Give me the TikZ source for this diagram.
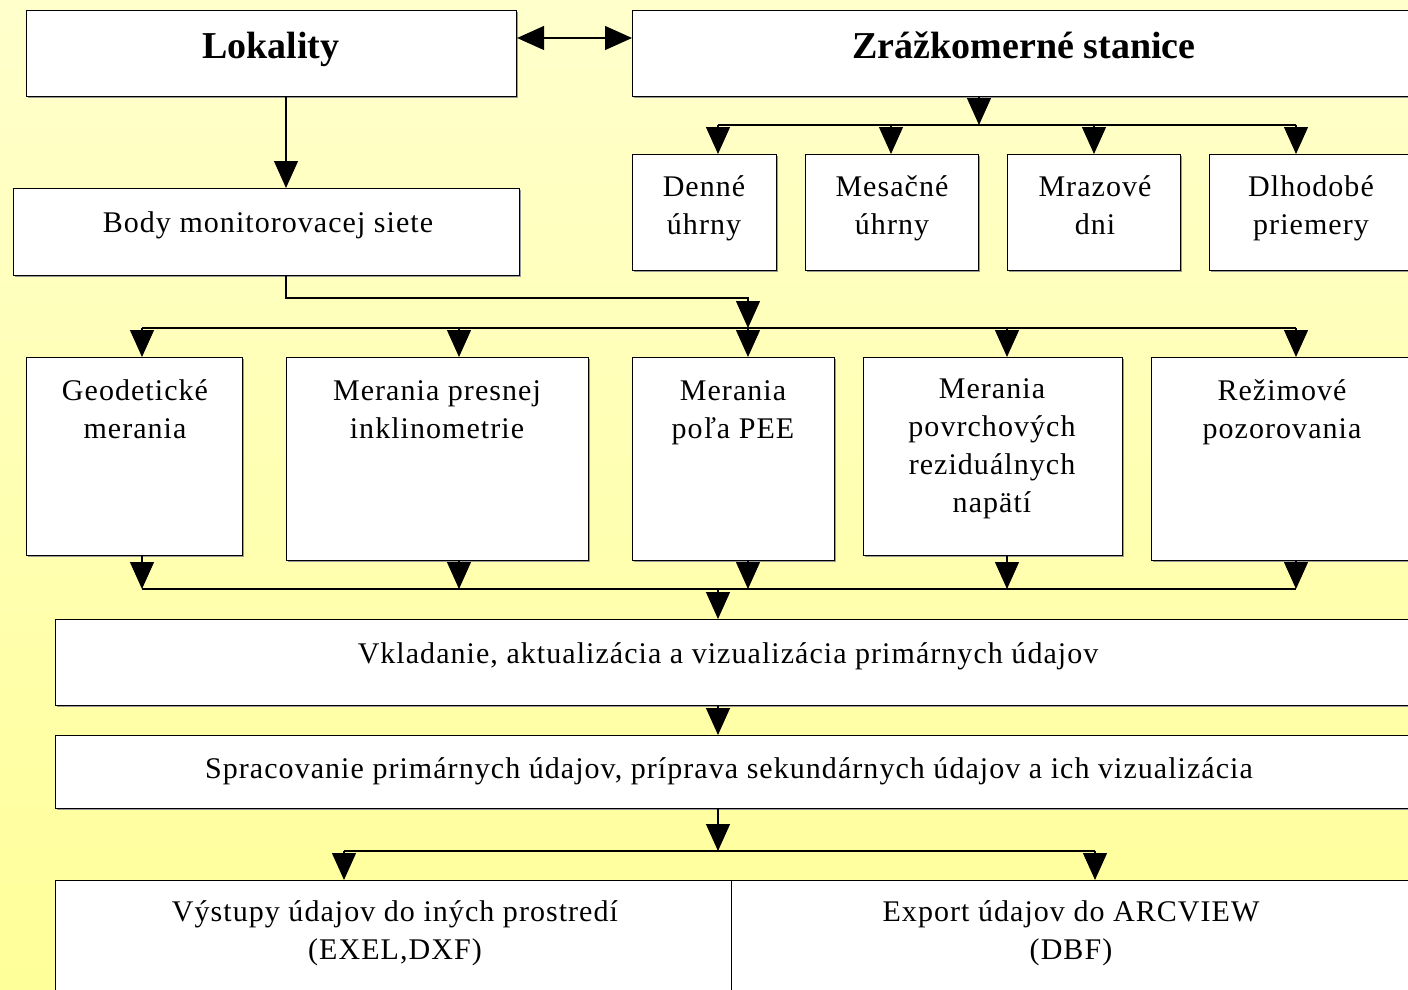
\documentclass[tikz,border=0pt]{standalone}
\usepackage{fontspec}
\setmainfont{Liberation Serif}
\newfontfamily\spaced[LetterSpace=3.5]{Liberation Serif}
\usetikzlibrary{arrows.meta,shadows}
\definecolor{bgtop}{HTML}{FFFFCC}
\definecolor{bgbot}{HTML}{FFFF99}
\begin{document}
\begin{tikzpicture}[x=1pt,y=-1pt,
  box/.style={draw=black, line width=1.1pt, fill=white, anchor=north west, inner sep=0pt,
    general shadow={fill=black!40, shadow xshift=1.3pt, shadow yshift=-1.3pt}},
  txt/.style={font=\spaced\fontsize{30}{38}\selectfont, align=center, inner sep=0pt, anchor=base},
  big/.style={font=\fontsize{38}{44}\selectfont\bfseries, inner sep=0pt, anchor=base},
  con/.style={line width=1.2pt, draw=black},
  arr/.style={con, -{Triangle[width=24pt,length=27pt]}},
  dbl/.style={con, {Triangle[width=24pt,length=27pt]}-{Triangle[width=24pt,length=27pt]}},
]
\useasboundingbox (0,0) rectangle (1408,990);
\shade[top color=bgtop, bottom color=bgbot] (0,0) rectangle (1408,990);
\clip (0,0) rectangle (1408,990);

% boxes
\node[box, minimum width=490pt, minimum height=86pt] (lok) at (26,10) {};
\node[box, minimum width=788pt, minimum height=86pt] (zr) at (632,10) {};
\node[box, minimum width=506pt, minimum height=87pt] (body) at (13,188) {};
\node[box, minimum width=144pt, minimum height=116pt] (den) at (632,154) {};
\node[box, minimum width=173pt, minimum height=116pt] (mes) at (805,154) {};
\node[box, minimum width=173pt, minimum height=116pt] (mra) at (1007,154) {};
\node[box, minimum width=211pt, minimum height=116pt] (dlh) at (1209,154) {};
\node[box, minimum width=216pt, minimum height=198pt] (geo) at (26,357) {};
\node[box, minimum width=302pt, minimum height=203pt] (pre) at (286,357) {};
\node[box, minimum width=202pt, minimum height=203pt] (pee) at (632,357) {};
\node[box, minimum width=259pt, minimum height=198pt] (pov) at (863,357) {};
\node[box, minimum width=269pt, minimum height=203pt] (rez) at (1151,357) {};
\node[box, minimum width=1365pt, minimum height=86pt] (vk) at (55,619) {};
\node[box, minimum width=1365pt, minimum height=73pt] (sp) at (55,735) {};
\node[box, minimum width=676pt, minimum height=130pt] (vy) at (55,880) {};
\node[box, minimum width=689pt, minimum height=130pt] (ex) at (731,880) {};

% texts (base anchor = baseline of the last line)
\node[big] (loktxt) at (271,59) {Lokality};
\node[big] (zrtxt) at (1024,59) {Zrážkomerné stanice};
\node[txt] (bodytxt) at (268,232) {Body monitorovacej siete};
\node[txt] (dentxt) at (704,234) {Denné\\úhrny};
\node[txt] (mestxt) at (892,234) {Mesačné\\úhrny};
\node[txt] (mratxt) at (1095,234) {Mrazové\\dni};
\node[txt] (dlhtxt) at (1311,234) {Dlhodobé\\priemery};
\node[txt] (geotxt) at (135,438) {Geodetické\\merania};
\node[txt] (pretxt) at (437,438) {Merania presnej\\inklinometrie};
\node[txt] (peetxt) at (733,438) {Merania\\poľa PEE};
\node[txt] (povtxt) at (992,512) {Merania\\povrchových\\reziduálnych\\napätí};
\node[txt] (reztxt) at (1282,438) {Režimové\\pozorovania};
\node[txt] (vktxt) at (728,663) {Vkladanie, aktualizácia a vizualizácia primárnych údajov};
\node[txt] (sptxt) at (729,778) {Spracovanie primárnych údajov, príprava sekundárnych údajov a ich vizualizácia};
\node[txt] (vytxt) at (395,959) {Výstupy údajov do iných prostredí\\(EXEL,DXF)};
\node[txt] (extxt) at (1071,959) {Export údajov do ARCVIEW\\(DBF)};

% coordinates
\coordinate (d) at (0,38);
\coordinate (j1) at (286,298);
\coordinate (s1) at (979,125);
\coordinate (c1) at (718,125);
\coordinate (c2) at (891,125);
\coordinate (c3) at (1094,125);
\coordinate (c4) at (1296,125);
\coordinate (t1) at (142,328);
\coordinate (t2) at (459,328);
\coordinate (t3) at (748,328);
\coordinate (t4) at (1007,328);
\coordinate (t5) at (1296,328);
\coordinate (u1) at (142,589);
\coordinate (u2) at (459,589);
\coordinate (u3) at (748,589);
\coordinate (u4) at (1007,589);
\coordinate (u5) at (1296,589);
\coordinate (m) at (718,589);
\coordinate (q) at (718,851);
\coordinate (q1) at (344,851);
\coordinate (q2) at (1095,851);

% connectors
\draw[dbl] (lok.east |- d) -- (zr.west |- d);
\draw[arr] (lok.south -| j1) -- (body.north -| j1);
\draw[arr] (zr.south -| s1) -- (s1);
\draw[con] (c1) -- (c4);
\draw[arr] (c1) -- (c1 |- den.north);
\draw[arr] (c2) -- (c2 |- mes.north);
\draw[arr] (c3) -- (c3 |- mra.north);
\draw[arr] (c4) -- (c4 |- dlh.north);
\draw[arr] (body.south -| j1) -- (j1) -| (t3);
\draw[con] (t1) -- (t5);
\draw[arr] (t1) -- (t1 |- geo.north);
\draw[arr] (t2) -- (t2 |- pre.north);
\draw[arr] (t3) -- (t3 |- pee.north);
\draw[arr] (t4) -- (t4 |- pov.north);
\draw[arr] (t5) -- (t5 |- rez.north);
\draw[arr] (geo.south -| u1) -- (u1);
\draw[arr] (pre.south -| u2) -- (u2);
\draw[arr] (pee.south -| u3) -- (u3);
\draw[arr] (pov.south -| u4) -- (u4);
\draw[arr] (rez.south -| u5) -- (u5);
\draw[con] (u1) -- (u5);
\draw[arr] (m) -- (m |- vk.north);
\draw[arr] (vk.south -| m) -- (sp.north -| m);
\draw[arr] (sp.south -| q) -- (q);
\draw[con] (q1) -- (q2);
\draw[arr] (q1) -- (q1 |- vy.north);
\draw[arr] (q2) -- (q2 |- ex.north);
\end{tikzpicture}
\end{document}
